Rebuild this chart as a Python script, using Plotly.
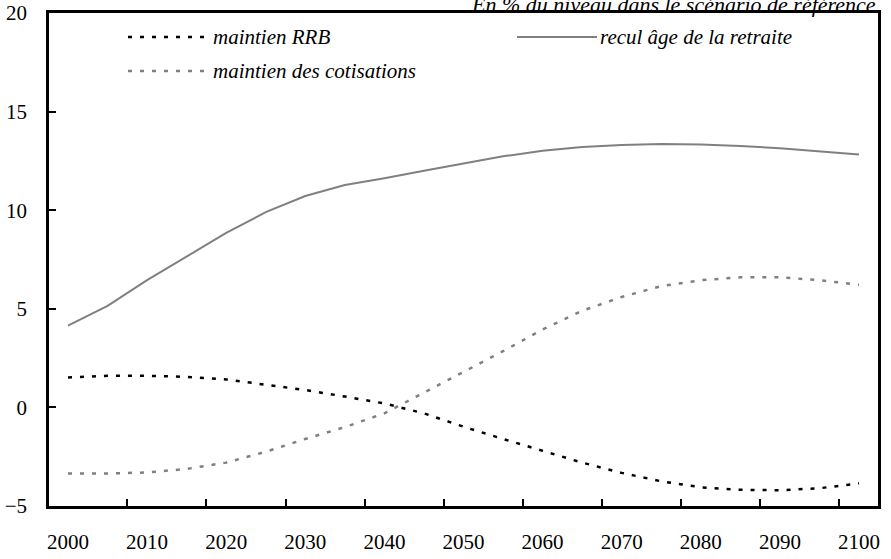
import plotly.graph_objects as go

years = list(range(2000, 2101, 5))
recul_age = [4.15, 5.15, 6.45, 7.65, 8.85, 9.9, 10.72, 11.28, 11.62, 12.0, 12.38,
             12.73, 13.02, 13.2, 13.3, 13.36, 13.33, 13.26, 13.14, 12.99, 12.83]
maintien_rrb = [1.52, 1.6, 1.6, 1.55, 1.42, 1.15, 0.88, 0.55, 0.2, -0.3, -0.98,
                -1.6, -2.2, -2.8, -3.32, -3.75, -4.05, -4.18, -4.2, -4.1, -3.85]
maintien_cotis = [-3.35, -3.35, -3.3, -3.12, -2.8, -2.25, -1.6, -1.0, -0.3, 0.75, 1.77,
                  2.85, 3.95, 4.9, 5.6, 6.15, 6.45, 6.6, 6.6, 6.45, 6.22]
tick_labels = list(range(2000, 2101, 10))
y_ticks = [-5, 0, 5, 10, 15, 20]

FONT = "Liberation Serif"
ITALIC_FONT = "Times New Roman"
GREY = "#808080"
DOTS = "4px,8px"

# plot area in pixels (for placing the hand-made legend)
L, R, T, B = 49, 878, 13, 506
def px(x):
    return (x - L) / (R - L)
def py(y):
    return (B - y) / (B - T)

fig = go.Figure()
fig.add_trace(go.Scatter(x=years, y=maintien_rrb, mode="lines", name="maintien RRB",
                         line=dict(color="black", width=2.5, dash=DOTS)))
fig.add_trace(go.Scatter(x=years, y=recul_age, mode="lines", name="recul âge de la retraite",
                         line=dict(color=GREY, width=2)))
fig.add_trace(go.Scatter(x=years, y=maintien_cotis, mode="lines", name="maintien des cotisations",
                         line=dict(color=GREY, width=2.5, dash=DOTS)))

# legend drawn by hand: long sample lines like the original
legend_items = [
    ("maintien RRB", "black", DOTS, 2.5, 128, 210, 37),
    ("recul âge de la retraite", GREY, "solid", 2, 517, 597, 37),
    ("maintien des cotisations", GREY, DOTS, 2.5, 128, 210, 71),
]
for name, col, dash, w, x0, x1, yy in legend_items:
    fig.add_shape(type="line", xref="paper", yref="paper",
                  x0=px(x0), x1=px(x1), y0=py(yy), y1=py(yy),
                  line=dict(color=col, width=w, dash=dash))
    fig.add_annotation(xref="paper", yref="paper", x=px(x1 + 1), y=py(yy),
                       xanchor="left", yanchor="middle", showarrow=False,
                       text="<i>" + name + "</i>",
                       font=dict(family=ITALIC_FONT, size=21))

fig.add_annotation(xref="paper", yref="paper", x=1.0, y=py(19),
                   xanchor="right", yanchor="bottom", showarrow=False,
                   text="<i>En % du niveau dans le scénario de référence</i>",
                   font=dict(family=ITALIC_FONT, size=22))

fig.update_xaxes(range=[1997.6, 2102.4], tickmode="array", tickvals=tick_labels,
                 ticks="", showline=True, linecolor="black", linewidth=2.5, mirror=True,
                 showgrid=False, zeroline=False, ticklabelstandoff=15, automargin=False,
                 tickfont=dict(size=21),
                 minor=dict(tickmode="array", tickvals=[t + 7.5 for t in tick_labels[:-1]],
                            ticks="inside", ticklen=7, tickwidth=2, tickcolor="black",
                            showgrid=False))
fig.update_yaxes(range=[-5, 20], tickmode="array", tickvals=y_ticks,
                 ticks="inside", ticklen=7, tickwidth=2, tickcolor="black",
                 showline=True, linecolor="black", linewidth=2.5, mirror=True,
                 showgrid=False, zeroline=False, ticklabelstandoff=15, automargin=False,
                 tickfont=dict(size=21))

fig.update_layout(width=891, height=559, showlegend=False,
                  font=dict(family=FONT, color="black"),
                  margin=dict(l=L, r=891 - R, t=T, b=559 - B),
                  plot_bgcolor="white", paper_bgcolor="white")

# no page margin, so the figure sits at the window's top-left corner
fig.write_html("out.html", config={"displayModeBar": False},
               post_script="document.body.style.margin='0px';")
